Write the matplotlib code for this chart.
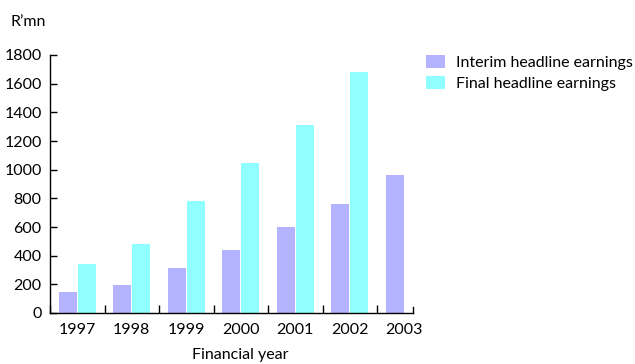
import matplotlib
matplotlib.use("Agg")
import matplotlib.pyplot as plt
from matplotlib.patches import Patch
import numpy as np

plt.rcParams['font.family'] = ['Lato', 'DejaVu Sans']

years = ['1997', '1998', '1999', '2000', '2001', '2002', '2003']
interim = [147, 195, 314, 440, 600, 760, 963]
final = [342, 481, 781, 1047, 1312, 1681, None]

interim_color = '#b3b3ff'
final_color = '#8fffff'

fig = plt.figure(figsize=(6.35, 3.64), dpi=100)
# axes box in pixel terms: left 50, right 413, bottom 313, top 55
ax = fig.add_axes([50 / 635, 1 - 313 / 364, 363 / 635, 258 / 364])

x = np.arange(len(years))
w = 0.33
ax.bar(x + 0.49 - w, interim, width=w, align='edge', color=interim_color)
fx = [xi for xi, v in zip(x, final) if v is not None]
fv = [v for v in final if v is not None]
ax.bar(np.array(fx) + 0.51, fv, width=w, align='edge', color=final_color)

ax.set_xlim(0, 363 / 54.5)
ax.set_ylim(0, 1800)
ax.set_yticks(range(0, 1801, 200))
ax.tick_params(axis='y', direction='in', length=5, labelsize=11.5, pad=6, width=1)

ax.set_xticks(x + 0.5)
ax.set_xticklabels(years)
ax.set_xticks(np.arange(0, 7), minor=True)
ax.tick_params(axis='x', which='major', length=0, labelsize=11.5, pad=7)
ax.tick_params(axis='x', which='minor', direction='in', length=6, width=1)

for s in ['top', 'right']:
    ax.spines[s].set_visible(False)
for s in ['left', 'bottom']:
    ax.spines[s].set_linewidth(1)

# right end tick of the axis
ax.plot([1, 1], [0, 6 / 258], transform=ax.transAxes, color='black', lw=1, clip_on=False)

fig.text(10 / 635, 1 - 22 / 364, "R\u2019mn", fontsize=11.5, va='center', ha='left')
fig.text(240 / 635, 1 - 355 / 364, "Financial year", fontsize=11.5, va='center', ha='center')

handles = [Patch(facecolor=interim_color, label='Interim headline earnings'),
           Patch(facecolor=final_color, label='Final headline earnings')]
fig.legend(handles=handles, loc='upper left', bbox_to_anchor=(426 / 635, 1 - 55 / 364),
           frameon=False, fontsize=11.5, handlelength=1.2, handleheight=0.9,
           handletextpad=0.7, labelspacing=0.35, borderpad=0, borderaxespad=0)

fig.savefig("out.png", dpi=100)
